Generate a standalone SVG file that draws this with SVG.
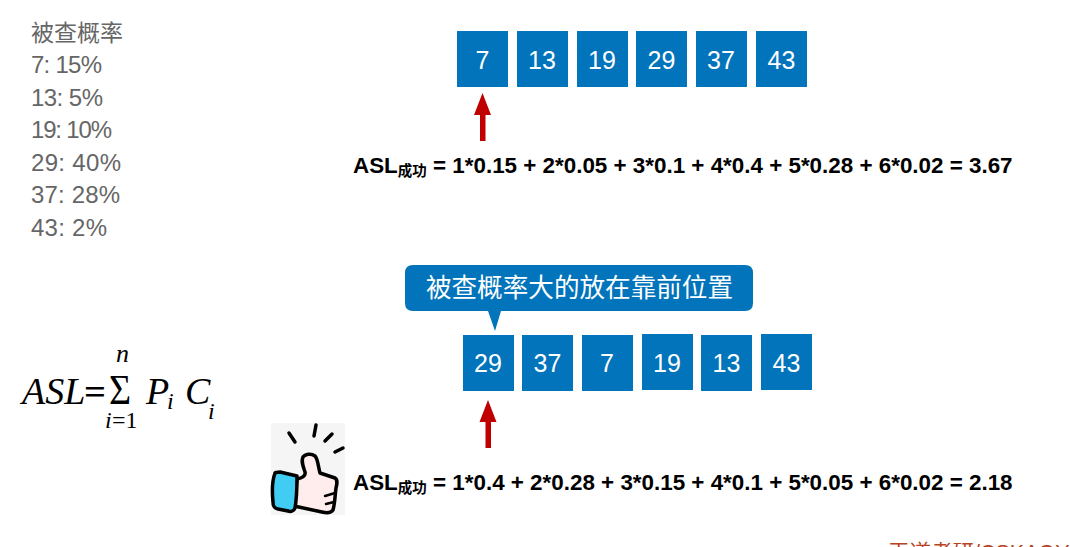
<svg xmlns="http://www.w3.org/2000/svg" width="1070" height="547" viewBox="0 0 1070 547">
<style>
.box{fill:#0174bb}
.num{font:25px "Liberation Sans","Noto Sans CJK SC",sans-serif;fill:#fff;text-anchor:middle}
.list{font:24px "Liberation Sans","Noto Sans CJK SC",sans-serif;fill:#666}
.asl{font:bold 22.4px "Liberation Sans","Noto Sans CJK SC",sans-serif;fill:#000}
.sub{font:bold 14.500px "Noto Sans CJK SC",sans-serif}
.m{font-family:"Liberation Serif",serif;font-style:italic;fill:#000}
.r{font-family:"Liberation Serif",serif;fill:#000}
.arrow{fill:#c00000}
.tick{fill:none;stroke:#000;stroke-width:3.500;stroke-linecap:round}
</style>
<rect width="1070" height="547" fill="#fff"/>
<g id="probabilities" class="list">
<text x="31" y="41" style="font:23px 'Noto Sans CJK SC',sans-serif">被查概率</text>
<text x="31" y="73" textLength="71">7: 15%</text>
<text x="31" y="106" textLength="72">13: 5%</text>
<text x="31" y="138" textLength="81">19: 10%</text>
<text x="31" y="171" textLength="90">29: 40%</text>
<text x="31" y="203" textLength="89">37: 28%</text>
<text x="31" y="236" textLength="76">43: 2%</text>
</g>
<g id="top-7"><rect class="box" x="457" y="31" width="51" height="56"/><text class="num" x="482.500" y="69">7</text></g>
<g id="top-13"><rect class="box" x="517" y="31" width="51" height="56"/><text class="num" x="542" y="69">13</text></g>
<g id="top-19"><rect class="box" x="577" y="31" width="51" height="56"/><text class="num" x="602" y="69">19</text></g>
<g id="top-29"><rect class="box" x="636" y="31" width="51" height="56"/><text class="num" x="661.500" y="69">29</text></g>
<g id="top-37"><rect class="box" x="696" y="31" width="51" height="56"/><text class="num" x="721" y="69">37</text></g>
<g id="top-43"><rect class="box" x="756" y="31" width="51" height="56"/><text class="num" x="781.500" y="69">43</text></g>
<g id="connectors">
<path class="arrow" d="M482.500 93L491 115H485.500V141H480V115H474Z"/>
<path class="arrow" d="M488 400L496.500 422H491V448H485.500V422H479.500Z"/>
</g>
<g id="asl-top"><text class="asl" x="353" y="173">ASL<tspan class="sub" dy="3">成功</tspan><tspan dy="-3"> = 1*0.15 + 2*0.05 + 3*0.1 + 4*0.4 + 5*0.28 + 6*0.02 = 3.67</tspan></text></g>
<g id="callout">
<path class="box" d="M413 265H745Q753 265 753 273V303Q753 311 745 311H501L495 331L488 311H413Q405 311 405 303V273Q405 265 413 265Z"/>
<text x="579.500" y="297" text-anchor="middle" style="font:25.600px 'Noto Sans CJK SC',sans-serif;fill:#fff">被查概率大的放在靠前位置</text>
</g>
<g id="bottom-29"><rect class="box" x="463" y="335" width="51" height="56"/><text class="num" x="488" y="372">29</text></g>
<g id="bottom-37"><rect class="box" x="522" y="335" width="51" height="56"/><text class="num" x="547.500" y="372">37</text></g>
<g id="bottom-7"><rect class="box" x="582" y="335" width="51" height="56"/><text class="num" x="607" y="372">7</text></g>
<g id="bottom-19"><rect class="box" x="642" y="334" width="51" height="56"/><text class="num" x="667" y="372">19</text></g>
<g id="bottom-13"><rect class="box" x="701" y="335" width="51" height="56"/><text class="num" x="726.500" y="372">13</text></g>
<g id="bottom-43"><rect class="box" x="761" y="334" width="51" height="56"/><text class="num" x="786.500" y="372">43</text></g>
<g id="asl-bottom"><text class="asl" x="353" y="490">ASL<tspan class="sub" dy="3">成功</tspan><tspan dy="-3"> = 1*0.4 + 2*0.28 + 3*0.15 + 4*0.1 + 5*0.05 + 6*0.02 = 2.18</tspan></text></g>
<g id="formula">
<text class="m" x="22" y="404" font-size="38">ASL</text>
<text class="r" x="84" y="404" font-size="36" textLength="22" lengthAdjust="spacingAndGlyphs" font-weight="bold">=</text>
<text class="r" transform="translate(109 404) scale(1 1.100)" font-size="38">Σ</text>
<text class="m" x="116" y="362" font-size="26">n</text>
<text class="m" x="105" y="428" font-size="24">i</text>
<text class="r" x="112" y="428" font-size="24">=1</text>
<text class="m" x="146" y="404" font-size="38">P</text>
<text class="m" x="167" y="409" font-size="24">i</text>
<text class="m" x="185" y="404" font-size="38">C</text>
<text class="m" x="208" y="419" font-size="24">i</text>
</g>
<g id="thumb">
<rect x="271" y="423" width="74" height="92" fill="#f5f5f5"/>
<path class="tick" d="M289 433L295 442M316 425L314 436M325 441L332 434M335 452L343 448"/>
<path d="M297 479C302 478 306 476 305 472C303 466 301 461 303 457C305 454 311 453 315 456C318 459 318 466 320 473L335 478C338 480 337 484 336 488C335 495 335 503 333 510C331 513 326 513 322 512L294 506Z" fill="#ffecec" stroke="#000" stroke-width="3.500" stroke-linejoin="round"/>
<path d="M275 473C276 472 278 472 280 472L297 476C297 486 297 497 295 508C294 511 291 512 288 511L278 509C274 508 273 506 273 502C272 492 272 481 275 473Z" fill="#41ccf3" stroke="#000" stroke-width="3.500" stroke-linejoin="round"/>
<path d="M325 496L335 493M326 504L334 502" fill="none" stroke="#000" stroke-width="2.500" stroke-linecap="round"/>
</g>
<g id="watermark"><text x="888" y="560" style="font:21.500px 'Liberation Sans','Noto Sans CJK SC',sans-serif;fill:#b8431f">王道考研/CSKAOYAN.COM</text></g>
</svg>
